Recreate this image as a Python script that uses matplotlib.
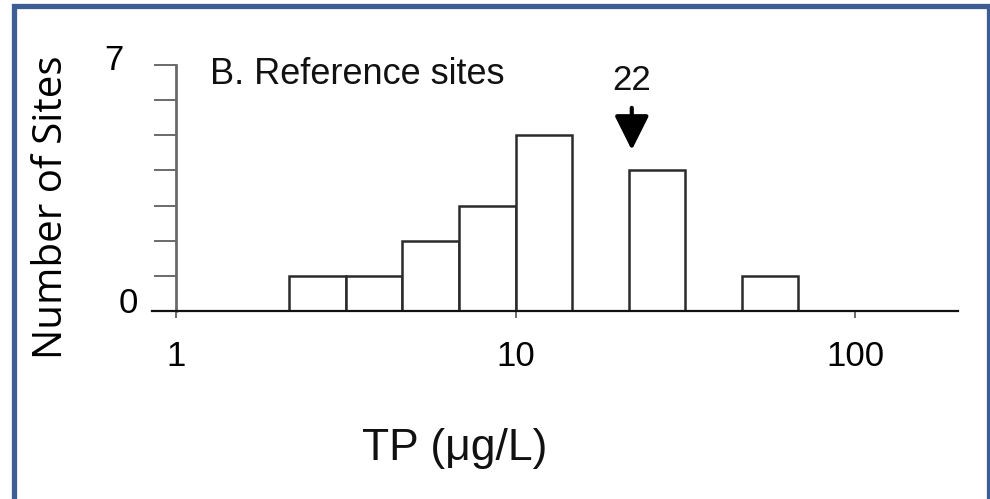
import numpy as np
import matplotlib
matplotlib.use("Agg")
import matplotlib.pyplot as plt
from matplotlib.patches import Rectangle
import matplotlib.transforms as mtransforms

# Histogram of total phosphorus at reference sites (log-spaced bins, 6 per decade)
bin_edges = [10 ** (k / 6) for k in range(2, 12)]
site_counts = [1, 1, 2, 3, 5, 0, 4, 0, 1]
marker_value = 22
marker_label = "22"
panel_title = "B. Reference sites"
x_ticks = [1, 10, 100]
x_tick_labels = ["1", "10", "100"]
y_ticks = [0, 1, 2, 3, 4, 5, 6, 7]
y_tick_labels = ["0", "", "", "", "", "", "", "7"]

W, H = 990, 499
fig = plt.figure(figsize=(W / 100, H / 100), dpi=100)
fig.patch.set_facecolor("white")

ax = fig.add_axes([152 / W, 1 - 311 / H, (958 - 152) / W, (311 - 65) / H])
ax.set_xscale("log")
ax.set_xlim(0.85, 201)
ax.set_ylim(0, 7)

lefts = np.array(bin_edges[:-1])
widths = np.diff(bin_edges)
counts = np.array(site_counts)
mask = counts > 0
ax.bar(lefts[mask], counts[mask], width=widths[mask], align="edge",
       facecolor="white", edgecolor="#2b2b2b", linewidth=1.8, zorder=2)

sans = ["Liberation Sans", "DejaVu Sans"]

# Axes styling
for s in ["top", "right"]:
    ax.spines[s].set_visible(False)
ax.spines["left"].set_position(("data", 1))
ax.spines["left"].set_color("#6a6a6a")
ax.spines["left"].set_linewidth(2.0)
ax.spines["bottom"].set_color("#111111")
ax.spines["bottom"].set_linewidth(1.6)
ax.spines["bottom"].set_zorder(3)

ax.set_yticks(y_ticks)
ax.set_yticklabels(y_tick_labels, fontfamily=sans, fontsize=25)
ax.tick_params(axis="y", direction="out", length=16, width=1.4, color="#6a6a6a", pad=11)
ax.set_xticks(x_ticks)
ax.set_xticklabels(x_tick_labels, fontfamily=sans, fontsize=25)
ax.xaxis.set_minor_locator(matplotlib.ticker.NullLocator())
ax.tick_params(axis="x", direction="out", length=5, width=1.4, color="#6a6a6a", pad=16)

# Shift the two y tick labels (pixel offsets: dx, dy)
label_shift = {"0": (0, 11), "7": (-15, 8)}
for lbl in ax.get_yticklabels():
    dx, dy = label_shift.get(lbl.get_text(), (0, 0))
    off = mtransforms.ScaledTranslation(dx / 100, dy / 100, fig.dpi_scale_trans)
    lbl.set_transform(lbl.get_transform() + off)

ax.text(1.26, 6.72, panel_title, fontfamily=sans, fontsize=26,
        ha="left", va="center", color="#111111")

# Arrow marking the reference value
ax.annotate("", xy=(marker_value, 4.58), xytext=(marker_value, 5.78),
            arrowprops=dict(arrowstyle="-|>,head_length=1.5,head_width=0.75",
                            color="black", lw=3, shrinkA=0, shrinkB=0,
                            mutation_scale=14))
ax.text(marker_value, 6.57, marker_label, fontfamily=sans, fontsize=25,
        ha="center", va="center", color="#111111")

fig.text(455 / W, 1 - 460 / H, "TP (\u03bcg/L)", fontfamily=sans, fontsize=32,
         ha="center", va="baseline", color="#111111")
fig.text(52 / W, 1 - 207 / H, "Number of Sites", fontfamily=["Open Sans", "DejaVu Sans"],
         fontsize=29, rotation=90, ha="center", va="center", color="black")

# Blue frame around the figure
frame = Rectangle((13.5 / W, -0.05), (989 - 13.5) / W, 1 - 6 / H + 0.05,
                  transform=fig.transFigure, fill=False, edgecolor="#3c5e94",
                  linewidth=3.8, zorder=10)
fig.patches.append(frame)

fig.savefig("out.png", dpi=100)
